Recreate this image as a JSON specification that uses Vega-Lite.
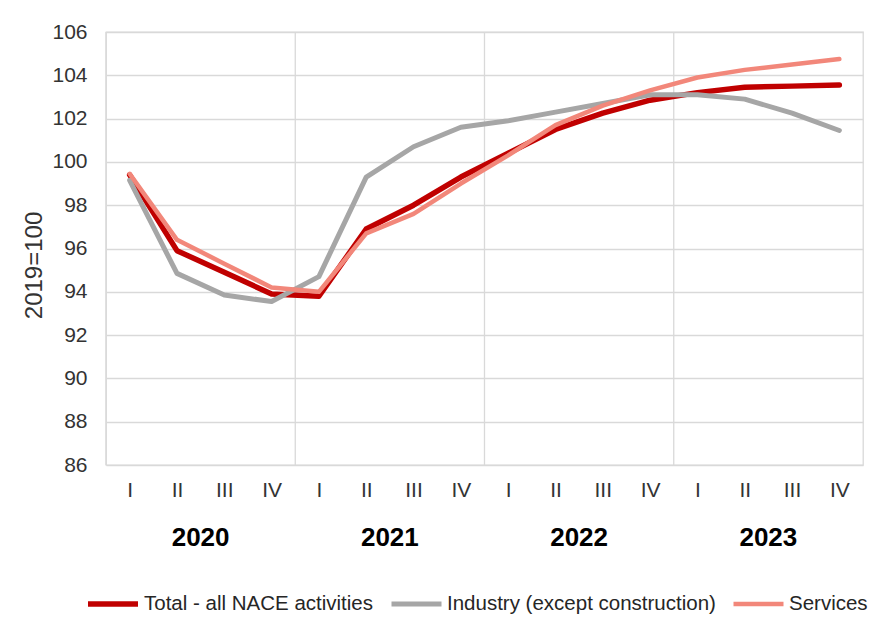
{
  "$schema": "https://vega.github.io/schema/vega-lite/v6.json",
  "width": 757,
  "height": 433,
  "autosize": {"type": "none"},
  "padding": {"left": 106, "top": 32, "right": 18, "bottom": 167},
  "background": "white",
  "config": {
    "view": {"stroke": "#d9d9d9", "strokeWidth": 1.3},
    "font": "Liberation Sans",
    "axis": {"labelFont": "Liberation Sans", "titleFont": "Liberation Sans"},
    "legend": {"labelFont": "Liberation Sans"}
  },
  "layer": [
    {
      "data": {"values": [{"year": "2020"}, {"year": "2021"}, {"year": "2022"}, {"year": "2023"}]},
      "mark": {"type": "rule", "color": "#d9d9d9", "strokeWidth": 1.3},
      "encoding": {
        "x": {
          "field": "year",
          "type": "ordinal",
          "bandPosition": 0,
          "scale": {"type": "band", "paddingInner": 0, "paddingOuter": 0},
          "axis": {
            "orient": "bottom",
            "offset": 51,
            "domain": false,
            "ticks": false,
            "grid": false,
            "labelAngle": 0,
            "labelFontSize": 26,
            "labelFontWeight": "bold",
            "labelColor": "#000000",
            "labelPadding": 8,
            "title": null
          }
        }
      }
    },
    {
      "data": {
        "values": [
          {"q": "2020 I", "s": "Total - all NACE activities", "v": 99.4},
          {"q": "2020 II", "s": "Total - all NACE activities", "v": 95.9},
          {"q": "2020 III", "s": "Total - all NACE activities", "v": 94.9},
          {"q": "2020 IV", "s": "Total - all NACE activities", "v": 93.9},
          {"q": "2021 I", "s": "Total - all NACE activities", "v": 93.8},
          {"q": "2021 II", "s": "Total - all NACE activities", "v": 96.9},
          {"q": "2021 III", "s": "Total - all NACE activities", "v": 98.0},
          {"q": "2021 IV", "s": "Total - all NACE activities", "v": 99.3},
          {"q": "2022 I", "s": "Total - all NACE activities", "v": 100.4},
          {"q": "2022 II", "s": "Total - all NACE activities", "v": 101.5},
          {"q": "2022 III", "s": "Total - all NACE activities", "v": 102.25},
          {"q": "2022 IV", "s": "Total - all NACE activities", "v": 102.85},
          {"q": "2023 I", "s": "Total - all NACE activities", "v": 103.2},
          {"q": "2023 II", "s": "Total - all NACE activities", "v": 103.45},
          {"q": "2023 III", "s": "Total - all NACE activities", "v": 103.5},
          {"q": "2023 IV", "s": "Total - all NACE activities", "v": 103.55},
          {"q": "2020 I", "s": "Industry (except construction)", "v": 99.15},
          {"q": "2020 II", "s": "Industry (except construction)", "v": 94.85},
          {"q": "2020 III", "s": "Industry (except construction)", "v": 93.85},
          {"q": "2020 IV", "s": "Industry (except construction)", "v": 93.55},
          {"q": "2021 I", "s": "Industry (except construction)", "v": 94.7},
          {"q": "2021 II", "s": "Industry (except construction)", "v": 99.3},
          {"q": "2021 III", "s": "Industry (except construction)", "v": 100.7},
          {"q": "2021 IV", "s": "Industry (except construction)", "v": 101.6},
          {"q": "2022 I", "s": "Industry (except construction)", "v": 101.9},
          {"q": "2022 II", "s": "Industry (except construction)", "v": 102.3},
          {"q": "2022 III", "s": "Industry (except construction)", "v": 102.7},
          {"q": "2022 IV", "s": "Industry (except construction)", "v": 103.1},
          {"q": "2023 I", "s": "Industry (except construction)", "v": 103.1},
          {"q": "2023 II", "s": "Industry (except construction)", "v": 102.9},
          {"q": "2023 III", "s": "Industry (except construction)", "v": 102.25},
          {"q": "2023 IV", "s": "Industry (except construction)", "v": 101.45},
          {"q": "2020 I", "s": "Services", "v": 99.45},
          {"q": "2020 II", "s": "Services", "v": 96.4},
          {"q": "2020 III", "s": "Services", "v": 95.3},
          {"q": "2020 IV", "s": "Services", "v": 94.2},
          {"q": "2021 I", "s": "Services", "v": 94.0},
          {"q": "2021 II", "s": "Services", "v": 96.7},
          {"q": "2021 III", "s": "Services", "v": 97.6},
          {"q": "2021 IV", "s": "Services", "v": 99.0},
          {"q": "2022 I", "s": "Services", "v": 100.3},
          {"q": "2022 II", "s": "Services", "v": 101.7},
          {"q": "2022 III", "s": "Services", "v": 102.6},
          {"q": "2022 IV", "s": "Services", "v": 103.3},
          {"q": "2023 I", "s": "Services", "v": 103.9},
          {"q": "2023 II", "s": "Services", "v": 104.25},
          {"q": "2023 III", "s": "Services", "v": 104.5},
          {"q": "2023 IV", "s": "Services", "v": 104.75}
        ]
      },
      "mark": {"type": "line", "strokeCap": "round", "strokeJoin": "round"},
      "encoding": {
        "x": {
          "field": "q",
          "type": "ordinal",
          "sort": null,
          "scale": {"type": "point", "padding": 0.5},
          "axis": {
            "orient": "bottom",
            "labelExpr": "split(datum.label, ' ')[1]",
            "domain": false,
            "ticks": false,
            "grid": false,
            "labelAngle": 0,
            "labelFontSize": 21,
            "labelColor": "#333333",
            "labelPadding": 14,
            "title": null
          }
        },
        "y": {
          "field": "v",
          "type": "quantitative",
          "scale": {"domain": [86, 106], "nice": false, "zero": false},
          "axis": {
            "values": [86, 88, 90, 92, 94, 96, 98, 100, 102, 104, 106],
            "domain": false,
            "ticks": false,
            "grid": true,
            "gridColor": "#d9d9d9",
            "gridWidth": 1.3,
            "labelFontSize": 21,
            "labelColor": "#333333",
            "labelPadding": 19,
            "title": "2019=100",
            "titleFontSize": 24,
            "titleFontWeight": "normal",
            "titleColor": "#333333",
            "titleX": -72,
            "titleY": 233,
            "titleBaseline": "middle"
          }
        },
        "color": {
          "field": "s",
          "type": "nominal",
          "sort": null,
          "scale": {
            "domain": ["Total - all NACE activities", "Industry (except construction)", "Services"],
            "range": ["#C00000", "#A6A6A6", "#F2877A"]
          },
          "legend": {
            "title": null,
            "orient": "none",
            "direction": "horizontal",
            "legendX": -21,
            "legendY": 544,
            "symbolType": "stroke",
            "symbolSize": 2500,
            "symbolStrokeWidth": 6,
            "labelFontSize": 20.5,
            "labelColor": "#262626",
            "labelOffset": 3,
            "columnPadding": 8,
            "labelLimit": 400
          }
        },
        "strokeWidth": {
          "field": "s",
          "type": "nominal",
          "sort": null,
          "scale": {
            "domain": ["Total - all NACE activities", "Industry (except construction)", "Services"],
            "range": [5.5, 4.5, 4.5]
          },
          "legend": null
        }
      }
    }
  ],
  "resolve": {"scale": {"x": "independent"}}
}
